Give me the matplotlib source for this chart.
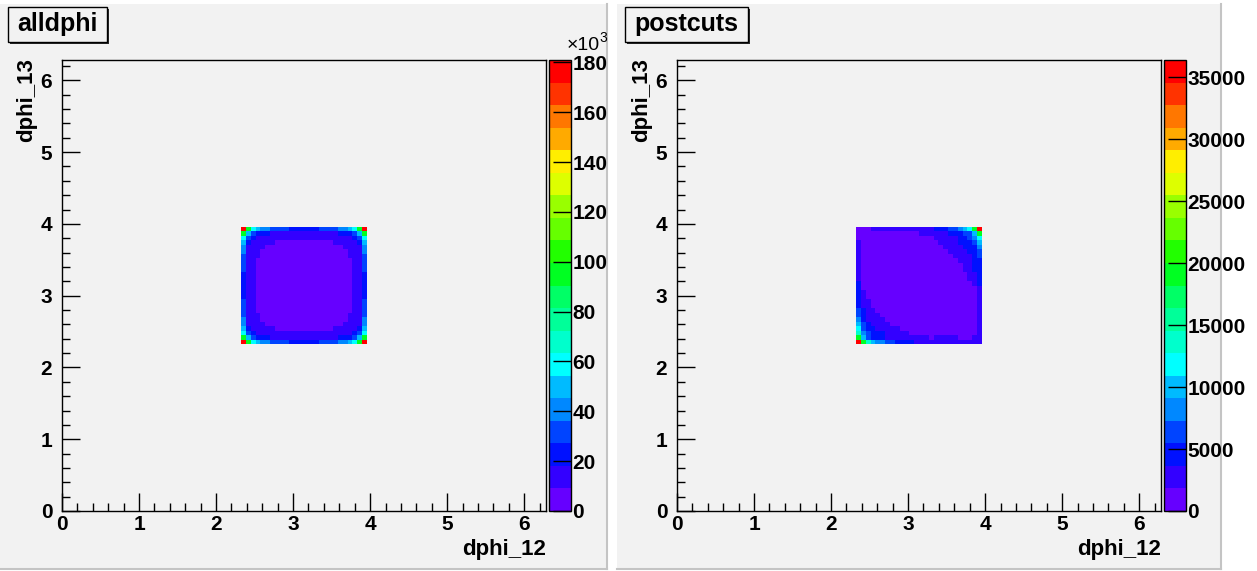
import numpy as np
import matplotlib
matplotlib.use("Agg")
import matplotlib.pyplot as plt
from matplotlib.colors import ListedColormap, BoundaryNorm
from matplotlib.patches import Rectangle
from matplotlib.lines import Line2D
from matplotlib.ticker import MultipleLocator

plt.rcParams['font.family'] = ['Liberation Sans', 'DejaVu Sans']
plt.rcParams['font.weight'] = 'bold'

W, H = 1257, 571

# histogram binning: 100 bins over [0, 2pi], filled bins 37..62
nbins = 100
first_bin = 37
n_filled = 26

# colour level of every filled cell (0 = lowest, J = highest of 20), rows from top to bottom
level_chars = "0123456789ABCDEFGHIJ"

alldphi_rows = [
    "JA654 43333 22222 23333 4456A J",
    "A5322 21111 11111 11111 22235 A",
    "63211 11111 11111 11111 11123 6",
    "52111 11000 00000 00001 11112 5",
    "41111 00000 00000 00000 01111 4",
    "41110 00000 00000 00000 00111 4",
    "31110 00000 00000 00000 00111 3",
    "31100 00000 00000 00000 00011 3",
    "31100 00000 00000 00000 00011 3",
    "31100 00000 00000 00000 00011 3",
    "21100 00000 00000 00000 00011 2",
    "21100 00000 00000 00000 00011 2",
    "21100 00000 00000 00000 00011 2",
    "21100 00000 00000 00000 00011 2",
    "21100 00000 00000 00000 00011 2",
    "21100 00000 00000 00000 00011 2",
    "31100 00000 00000 00000 00011 3",
    "31100 00000 00000 00000 00011 3",
    "31100 00000 00000 00000 00011 3",
    "31110 00000 00000 00000 00111 3",
    "41110 00000 00000 00000 00111 4",
    "41111 00000 00000 00000 01111 4",
    "52111 11000 00000 00001 11112 5",
    "63211 11111 11111 11111 11123 6",
    "A5322 21111 11111 11111 22235 A",
    "JA654 43333 22222 23333 4456A J",
]

postcuts_rows = [
    "00011 11111 11111 12223 3456A J",
    "00000 00000 00011 11112 22335 A",
    "00000 00000 00000 01111 12234 6",
    "10000 00000 00000 00111 12223 5",
    "10000 00000 00000 00011 11222 4",
    "10000 00000 00000 00001 11122 3",
    "10000 00000 00000 00000 11112 3",
    "10000 00000 00000 00000 01112 2",
    "10000 00000 00000 00000 00112 2",
    "10000 00000 00000 00000 00112 2",
    "10000 00000 00000 00000 00011 2",
    "10000 00000 00000 00000 00011 2",
    "20000 00000 00000 00000 00001 2",
    "20000 00000 00000 00000 00000 1",
    "21000 00000 00000 00000 00000 1",
    "21000 00000 00000 00000 00000 1",
    "21100 00000 00000 00000 00000 1",
    "21100 00000 00000 00000 00000 1",
    "32110 00000 00000 00000 00000 1",
    "32111 00000 00000 00000 00000 1",
    "42111 10000 00000 00000 00000 1",
    "53211 11000 00000 00000 00000 1",
    "63221 11110 00000 00000 00000 1",
    "74322 21111 10000 00000 00000 1",
    "A5322 21111 11111 01111 10001 1",
    "JA754 43322 22111 11111 11111 1",
]

alldphi_zmax = 181000
postcuts_zmax = 36400
alldphi_cticks = [0, 20000, 40000, 60000, 80000, 100000, 120000, 140000, 160000, 180000]
alldphi_clabels = ["0", "20", "40", "60", "80", "100", "120", "140", "160", "180"]
postcuts_cticks = [0, 5000, 10000, 15000, 20000, 25000, 30000, 35000]
postcuts_clabels = ["0", "5000", "10000", "15000", "20000", "25000", "30000", "35000"]

palette = ["#6600ff", "#3300ff", "#0011ff", "#0044ff", "#0088ff", "#00bbff",
           "#00ffff", "#00ffcc", "#00ff99", "#00ff66", "#00ff22", "#22ff00",
           "#66ff00", "#99ff00", "#ddff00", "#ffee00", "#ffaa00", "#ff7700",
           "#ff3300", "#ff0000"]
cmap = ListedColormap(palette)

pad_color = "#f2f2f2"


def fbox(x0, y0, x1, y1):
    return [x0 / W, 1 - y1 / H, (x1 - x0) / W, (y1 - y0) / H]


def to_values(rows, zmax):
    lv = np.array([[level_chars.index(c) for c in r.replace(" ", "")] for r in rows])
    return ((lv + 0.5) * zmax / 20.0)[::-1]


fig = plt.figure(figsize=(W / 100, H / 100), dpi=100)
fig.patch.set_facecolor("white")

edges = np.linspace(0, 2 * np.pi, nbins + 1)[first_bin:first_bin + n_filled + 1]


def draw_pad(px0, pad_x0, pad_x1, title, title_x1, rows, zmax, cticks, clabels, exponent):
    # pad background with grey border on right and bottom
    x0, y0, w, h = fbox(pad_x0, 4, pad_x1, 569)
    fig.patches.append(Rectangle((x0, y0), w, h, transform=fig.transFigure,
                                 facecolor=pad_color, edgecolor="none", zorder=-5))
    fig.lines.append(Line2D([x0 + w, x0 + w], [y0, y0 + h], transform=fig.transFigure,
                            color="#c4c4c4", lw=1.5, zorder=-4))
    fig.lines.append(Line2D([x0, x0 + w], [y0, y0], transform=fig.transFigure,
                            color="#c4c4c4", lw=1.5, zorder=-4))

    ax = fig.add_axes(fbox(px0 + 62, 60, px0 + 546, 511))
    ax.set_facecolor(pad_color)
    vals = to_values(rows, zmax)
    norm = BoundaryNorm(np.linspace(0, zmax, 21), 20)
    mesh = ax.pcolormesh(edges, edges, vals, cmap=cmap, norm=norm)
    ax.set_xlim(0, 2 * np.pi)
    ax.set_ylim(0, 2 * np.pi)
    for ln in [ax.xaxis, ax.yaxis]:
        ln.set_major_locator(MultipleLocator(1))
        ln.set_minor_locator(MultipleLocator(0.2))
    ax.tick_params(which="both", direction="in", top=False, right=False, width=1,
                   labelsize=15)
    ax.tick_params(which="major", length=13)
    ax.tick_params(which="minor", length=6)
    ax.tick_params(axis="x", pad=3)
    ax.tick_params(axis="y", pad=7)
    for sp in ax.spines.values():
        sp.set_linewidth(1)
    for lab in ax.get_xticklabels() + ax.get_yticklabels():
        lab.set_fontweight("bold")

    cax = fig.add_axes(fbox(px0 + 549, 60, px0 + 571, 511))
    cb = fig.colorbar(mesh, cax=cax, ticks=cticks)
    cb.ax.set_yticklabels(clabels)
    cb.outline.set_linewidth(1)
    cax.tick_params(direction="in", length=13, width=1, labelsize=15, pad=1)
    cax.minorticks_off()
    for lab in cax.get_yticklabels():
        lab.set_fontweight("bold")

    if exponent:
        fig.text((px0 + 567) / W, 1 - 46 / H, "\u00d710", fontsize=14,
                 fontweight="normal", va="center", ha="left")
        fig.text((px0 + 599) / W, 1 - 38 / H, "3", fontsize=10,
                 fontweight="normal", va="center", ha="left")

    # axis titles
    fig.text((px0 + 546) / W, 1 - 550 / H, "dphi_12", fontsize=16,
             fontweight="bold", ha="right", va="center")
    fig.text((px0 + 27) / W, 1 - 58 / H, "dphi_13", fontsize=16,
             fontweight="bold", ha="center", va="top", rotation=90)

    # title box with shadow
    sx, sy, sw, sh = fbox(pad_x0 + 10, 9, pad_x0 + title_x1 + 2, 44)
    fig.patches.append(Rectangle((sx, sy), sw, sh, transform=fig.transFigure,
                                 facecolor="#2a2a2a", edgecolor="none", zorder=1))
    bx, by, bw, bh = fbox(pad_x0 + 8, 7, pad_x0 + title_x1, 42)
    fig.patches.append(Rectangle((bx, by), bw, bh, transform=fig.transFigure,
                                 facecolor=pad_color, edgecolor="black", lw=1, zorder=2))
    fig.text(bx + bw / 2, by + bh / 2, title, fontsize=18, fontweight="bold",
             ha="center", va="center", zorder=3)


draw_pad(0, 0, 607, "alldphi", 107, alldphi_rows, alldphi_zmax,
         alldphi_cticks, alldphi_clabels, True)
draw_pad(615, 617, 1221, "postcuts", 131, postcuts_rows, postcuts_zmax,
         postcuts_cticks, postcuts_clabels, False)

fig.savefig("out.png", dpi=100)
